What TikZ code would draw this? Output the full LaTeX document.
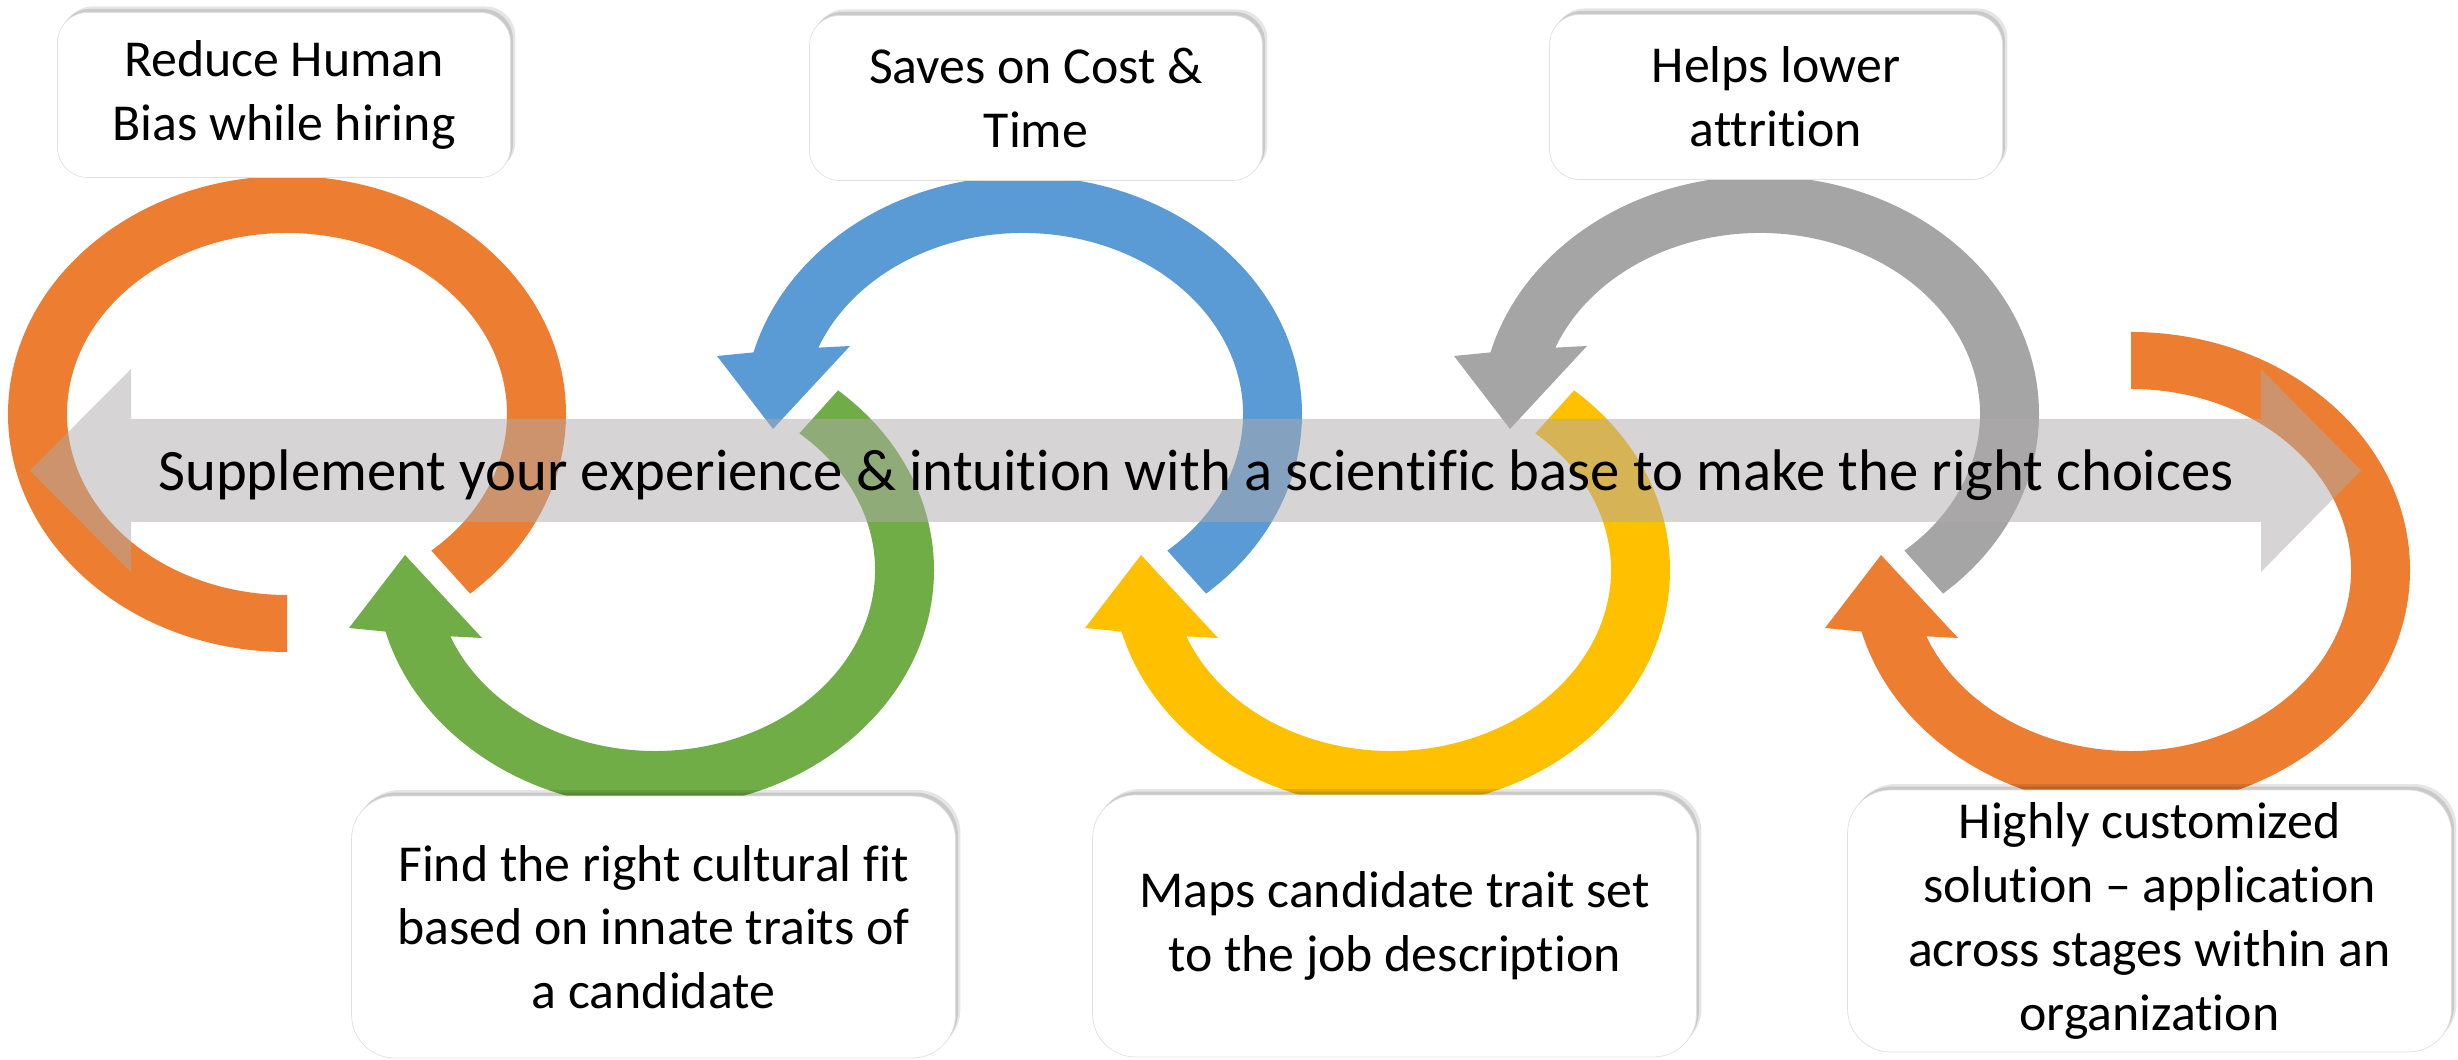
\documentclass[tikz,border=0pt]{standalone}
\usepackage{fontspec}
\setmainfont{Carlito}[Ligatures=CommonOff]
\usepackage{tikz}
\usetikzlibrary{shadows}

\definecolor{accorange}{HTML}{ED7D31}
\definecolor{accblue}{HTML}{5B9BD5}
\definecolor{accgreen}{HTML}{70AD47}
\definecolor{accgold}{HTML}{FFC000}
\definecolor{accgrey}{HTML}{A5A5A5}
\definecolor{bandgrey}{HTML}{AEAAAA}

\newcommand{\boxfont}{\fontsize{29.5}{36.3}\selectfont}
\newcommand{\bandfont}{\fontsize{33.4}{40}\selectfont}

% upper ring: tail at -49, head on the left pointing down
\newcommand{\toparrow}[2]{%
	\fill[#2, shift={(#1,646)}] (-49:279 and 238) arc[start angle=-49, end angle=165, x radius=279, y radius=238]
		-- (-306,58) -- (-250,-15) -- (-173,68)
		-- (158.5:220 and 181) arc[start angle=158.5, end angle=-49, x radius=220, y radius=181] -- cycle;}
% lower ring: tail at #3, head on the left pointing up
\newcommand{\bottomarrow}[3]{%
	\fill[#2, shift={(#1,490)}] (#3:279 and 238) arc[start angle=#3, end angle=-165, x radius=279, y radius=238]
		-- (-306,-58) -- (-250,15) -- (-173,-68)
		-- (-158.5:220 and 181) arc[start angle=-158.5, end angle=#3, x radius=220, y radius=181] -- cycle;}

\tikzset{
	card/.style={draw=black!12, fill=white, align=center, font=\boxfont, inner sep=0pt,
		drop shadow={shadow xshift=0.05cm, shadow yshift=0.07cm, opacity=0.12, fill=black},
		drop shadow={shadow xshift=0.1cm, shadow yshift=0.12cm, opacity=0.1, fill=black}},
	topcard/.style={card, rounded corners=0.6cm, minimum width=9.06cm, minimum height=3.3cm},
	lowcard/.style={card, rounded corners=0.86cm, minimum width=12.08cm, minimum height=5.24cm},
}

\begin{document}
\begin{tikzpicture}[x=0.02cm, y=0.02cm]
	\useasboundingbox (0,0) rectangle (2458,1060);

	\fill[accorange, shift={(287,646)}] (270:279 and 238) arc[start angle=270, end angle=-49, x radius=279, y radius=238]
		-- (-49:220 and 181) arc[start angle=-49, end angle=270, x radius=220, y radius=181] -- cycle;
	\bottomarrow{655}{accgreen}{49}
	\toparrow{1023}{accblue}
	\bottomarrow{1391}{accgold}{49}
	\toparrow{1760}{accgrey}
	\bottomarrow{2131}{accorange}{90}

	\fill[bandgrey, opacity=0.5] (30,589.5) -- (131,691) -- (131,641) -- (2261,641) -- (2261,691)
		-- (2361,589.5) -- (2261,488) -- (2261,538) -- (131,538) -- (131,488) -- cycle;
	\node[font=\bandfont, anchor=base, inner sep=0pt] (motto) at (1196,569)
		{Supplement your experience \& intuition with a scientific base to make the right choices};

	\node[topcard] (reduce) at (284,965) {Reduce Human\\Bias while hiring};
	\node[topcard] (saves) at (1036,962) {Saves on Cost \&\\Time};
	\node[topcard] (helps) at (1776,963) {Helps lower\\attrition};
	\node[lowcard] (culture) at (653.5,133) {Find the right cultural fit\\based on innate traits of\\a candidate};
	\node[lowcard] (maps) at (1394.5,134) {Maps candidate trait set\\to the job description};
	\node[lowcard] (custom) at (2149.5,139) {Highly customized\\solution -- application\\across stages within an\\organization};
\end{tikzpicture}
\end{document}
